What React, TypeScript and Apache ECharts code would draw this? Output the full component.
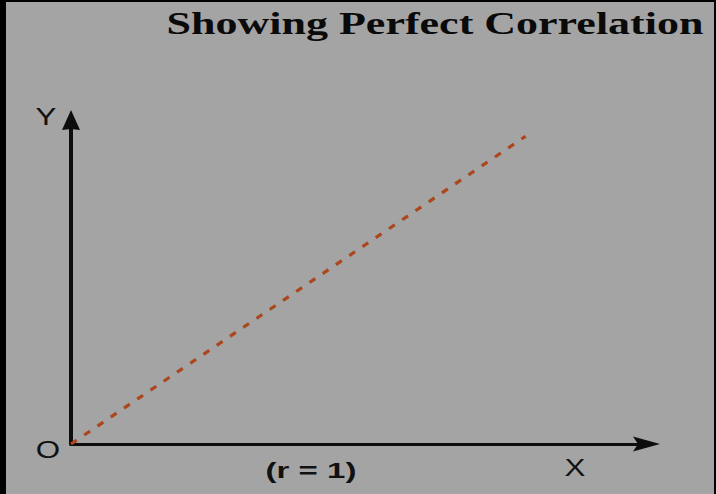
import React, { useEffect, useRef } from "react";
import * as echarts from "echarts";

const titleText = "Showing Perfect Correlation";
const xAxisName = "X";
const yAxisName = "Y";
const originLabel = "O";
const noteLabel = "(r = 1)";
const xRange = [0, 100];
const yRange = [0, 100];
const lineX = [0, 79];
const lineY = [0, 95];

export default function App() {
  const ref = useRef<HTMLDivElement>(null);
  useEffect(() => {
    if (!ref.current) return;
    const chart = echarts.init(ref.current, undefined, { renderer: "svg" });
    const sansStyle = (text: string, size: number, weight: string) => ({
      text,
      fill: "#111",
      font: `${weight} ${size}px "Liberation Sans", Arial, sans-serif`,
      textAlign: "center",
      textVerticalAlign: "middle",
    });
    chart.setOption({
      animation: false,
      backgroundColor: "#a4a4a4",
      grid: { left: 65, right: 67.5, top: 118, bottom: 50 },
      xAxis: {
        type: "value",
        min: xRange[0],
        max: xRange[1],
        axisLine: {
          show: true,
          onZero: false,
          symbol: ["none", "path://M7.5,0 L15,27 L7.5,22 L0,27 Z"],
          symbolSize: [15, 27],
          lineStyle: { color: "#0d0d0d", width: 3 },
        },
        axisTick: { show: false },
        axisLabel: { show: false },
        splitLine: { show: false },
      },
      yAxis: {
        type: "value",
        min: yRange[0],
        max: yRange[1],
        axisLine: {
          show: true,
          onZero: false,
          symbol: ["none", "path://M9,0 L18,20 L9,19 L0,20 Z"],
          symbolSize: [18, 20],
          lineStyle: { color: "#0d0d0d", width: 4 },
        },
        axisTick: { show: false },
        axisLabel: { show: false },
        splitLine: { show: false },
      },
      series: [
        {
          type: "line",
          data: lineX.map((x, i) => [x, lineY[i]]),
          symbol: "none",
          lineStyle: { color: "#ab461d", width: 3.2, type: [7, 9] },
          z: 1,
        },
      ],
      graphic: [
        {
          type: "text",
          x: 429,
          y: 21,
          scaleX: 1.42,
          style: {
            text: titleText,
            fill: "#0a0a0a",
            font: 'bold 31px "Liberation Serif", "Times New Roman", serif',
            textAlign: "center",
            textVerticalAlign: "middle",
          },
        },
        { type: "text", x: 40, y: 115, scaleX: 1.36, style: sansStyle(yAxisName, 23, "normal") },
        { type: "text", x: 42, y: 448, scaleX: 1.36, style: sansStyle(originLabel, 23, "normal") },
        { type: "text", x: 569, y: 466, scaleX: 1.36, style: sansStyle(xAxisName, 23, "normal") },
        { type: "text", x: 305, y: 469, scaleX: 1.5, style: sansStyle(noteLabel, 22, "bold") },
      ],
    });
    return () => chart.dispose();
  }, []);
  return (
    <div
      style={{
        position: "fixed",
        left: 0,
        top: 0,
        width: 716,
        height: 494,
        background: "#000",
      }}
    >
      <div
        ref={ref}
        style={{ position: "absolute", left: 6, top: 2, width: 708, height: 492 }}
      />
    </div>
  );
}
